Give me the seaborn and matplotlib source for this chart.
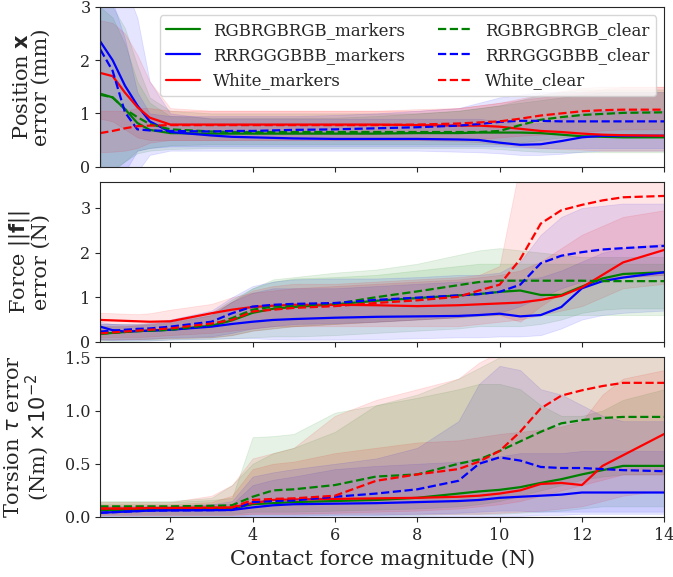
import matplotlib
matplotlib.use("Agg")
import matplotlib.pyplot as plt
import seaborn as sns

# =============================================================================
# data (x = contact force magnitude, N)
# =============================================================================
X = [0.3, 0.6, 0.9, 1.2, 1.5, 2, 3, 3.5, 4, 4.5, 5, 6, 7, 8, 9, 9.5, 10, 10.5, 11, 11.5, 12, 12.5, 13, 14]

labels = ["RGBRGBRGB_markers", "RRRGGGBBB_markers", "White_markers",
          "RGBRGBRGB_clear", "RRRGGGBBB_clear", "White_clear"]

# --- position error (mm) ---
pos_rgb_markers = [1.37, 1.30, 1.08, 0.82, 0.69, 0.63, 0.62, 0.62, 0.62, 0.62, 0.62, 0.62, 0.62, 0.63, 0.63, 0.64, 0.64, 0.64, 0.63, 0.60, 0.57, 0.56, 0.55, 0.55]
pos_rgb_markers_lo = [-0.1, -0.05, 0.10, 0.25, 0.30, 0.33, 0.35, 0.35, 0.35, 0.35, 0.35, 0.35, 0.35, 0.35, 0.35, 0.35, 0.33, 0.30, 0.28, 0.27, 0.27, 0.27, 0.27, 0.27]
pos_rgb_markers_hi = [3.2, 3.0, 2.6, 1.9, 1.3, 1.05, 1.0, 1.0, 1.0, 1.0, 1.0, 1.0, 1.0, 1.0, 1.05, 1.1, 1.15, 1.2, 1.25, 1.3, 1.35, 1.4, 1.4, 1.4]
pos_rrr_markers = [2.35, 2.00, 1.52, 1.15, 0.85, 0.65, 0.585, 0.56, 0.55, 0.54, 0.53, 0.52, 0.52, 0.52, 0.51, 0.50, 0.45, 0.41, 0.42, 0.48, 0.55, 0.58, 0.58, 0.58]
pos_rrr_markers_lo = [-0.5, -0.5, -0.4, -0.1, 0.22, 0.30, 0.30, 0.30, 0.30, 0.30, 0.30, 0.30, 0.30, 0.30, 0.28, 0.27, 0.25, 0.22, 0.22, 0.24, 0.28, 0.30, 0.30, 0.30]
pos_rrr_markers_hi = [3.5, 3.5, 3.4, 2.8, 1.6, 1.0, 0.9, 0.9, 0.9, 0.9, 0.9, 0.9, 0.9, 0.9, 0.9, 0.9, 0.85, 0.8, 0.82, 0.9, 1.0, 1.05, 1.05, 1.05]
pos_white_markers = [1.76, 1.70, 1.39, 1.12, 0.92, 0.79, 0.79, 0.79, 0.79, 0.79, 0.79, 0.79, 0.79, 0.78, 0.77, 0.77, 0.75, 0.71, 0.67, 0.65, 0.62, 0.60, 0.59, 0.58]
pos_white_markers_lo = [0.9, 0.85, 0.7, 0.55, 0.5, 0.5, 0.5, 0.5, 0.5, 0.5, 0.5, 0.5, 0.5, 0.5, 0.48, 0.46, 0.42, 0.38, 0.35, 0.33, 0.32, 0.3, 0.3, 0.3]
pos_white_markers_hi = [2.75, 2.7, 2.5, 2.1, 1.6, 1.1, 1.05, 1.05, 1.05, 1.05, 1.05, 1.05, 1.05, 1.05, 1.1, 1.15, 1.2, 1.25, 1.3, 1.35, 1.4, 1.45, 1.5, 1.5]
pos_rgb_clear = [1.35, 1.30, 1.08, 0.93, 0.80, 0.70, 0.66, 0.65, 0.65, 0.65, 0.65, 0.65, 0.65, 0.65, 0.65, 0.65, 0.67, 0.78, 0.88, 0.93, 0.97, 0.99, 1.01, 1.02]
pos_rgb_clear_lo = [-0.2, -0.1, 0.1, 0.3, 0.35, 0.4, 0.42, 0.42, 0.42, 0.42, 0.42, 0.42, 0.42, 0.42, 0.42, 0.42, 0.42, 0.45, 0.5, 0.55, 0.58, 0.6, 0.6, 0.6]
pos_rgb_clear_hi = [3.0, 2.8, 2.3, 1.6, 1.2, 0.95, 0.92, 0.92, 0.92, 0.92, 0.92, 0.92, 0.95, 1.0, 1.05, 1.1, 1.15, 1.25, 1.35, 1.4, 1.45, 1.45, 1.45, 1.45]
pos_rrr_clear = [2.2, 1.8, 1.02, 0.70, 0.68, 0.67, 0.66, 0.67, 0.67, 0.68, 0.69, 0.70, 0.72, 0.74, 0.77, 0.80, 0.84, 0.86, 0.86, 0.85, 0.85, 0.85, 0.85, 0.85]
pos_rrr_clear_lo = [0.0, -0.2, -0.1, 0.3, 0.35, 0.38, 0.38, 0.38, 0.38, 0.38, 0.38, 0.38, 0.38, 0.38, 0.38, 0.38, 0.38, 0.36, 0.35, 0.35, 0.35, 0.35, 0.35, 0.35]
pos_rrr_clear_hi = [3.3, 3.1, 2.4, 1.4, 1.0, 0.95, 0.95, 0.95, 0.95, 0.95, 0.95, 0.97, 1.0, 1.05, 1.1, 1.2, 1.3, 1.35, 1.4, 1.4, 1.4, 1.4, 1.4, 1.4]
pos_white_clear = [0.63, 0.67, 0.72, 0.76, 0.77, 0.78, 0.78, 0.78, 0.78, 0.78, 0.78, 0.78, 0.78, 0.79, 0.81, 0.83, 0.85, 0.90, 0.96, 1.00, 1.04, 1.06, 1.07, 1.07]
pos_white_clear_lo = [0.27, 0.28, 0.3, 0.35, 0.45, 0.5, 0.5, 0.5, 0.5, 0.5, 0.5, 0.5, 0.5, 0.5, 0.5, 0.52, 0.55, 0.58, 0.6, 0.62, 0.65, 0.68, 0.7, 0.7]
pos_white_clear_hi = [1.05, 1.05, 1.05, 1.1, 1.1, 1.05, 1.05, 1.05, 1.05, 1.05, 1.05, 1.05, 1.05, 1.08, 1.1, 1.15, 1.2, 1.28, 1.35, 1.42, 1.48, 1.5, 1.5, 1.5]

# --- force error (N) ---
force_rgb_markers = [0.18, 0.20, 0.22, 0.24, 0.25, 0.27, 0.36, 0.48, 0.65, 0.74, 0.78, 0.84, 0.92, 0.98, 1.04, 1.07, 1.12, 1.15, 1.05, 1.05, 1.24, 1.42, 1.52, 1.56]
force_rgb_markers_lo = [0.02, 0.02, 0.02, 0.02, 0.03, 0.05, 0.06, 0.08, 0.1, 0.12, 0.12, 0.15, 0.2, 0.25, 0.3, 0.35, 0.35, 0.35, 0.4, 0.5, 0.65, 0.72, 0.75, 0.75]
force_rgb_markers_hi = [0.4, 0.4, 0.4, 0.4, 0.42, 0.45, 0.65, 0.95, 1.2, 1.4, 1.45, 1.55, 1.62, 1.75, 1.95, 2.05, 2.1, 2.05, 2.0, 1.95, 1.9, 1.9, 1.9, 1.9]
force_rrr_markers = [0.34, 0.26, 0.23, 0.24, 0.25, 0.27, 0.34, 0.40, 0.45, 0.49, 0.51, 0.54, 0.56, 0.57, 0.58, 0.60, 0.63, 0.57, 0.60, 0.78, 1.20, 1.36, 1.44, 1.56]
force_rrr_markers_lo = [0.05, 0.03, 0.03, 0.03, 0.03, 0.05, 0.07, 0.08, 0.08, 0.06, 0.05, 0.05, 0.06, 0.08, 0.1, 0.1, 0.12, 0.12, 0.15, 0.3, 0.5, 0.6, 0.65, 0.7]
force_rrr_markers_hi = [0.45, 0.4, 0.38, 0.38, 0.4, 0.45, 0.6, 0.9, 1.1, 1.2, 1.2, 1.2, 1.25, 1.3, 1.35, 1.35, 1.4, 1.4, 1.45, 1.6, 1.8, 2.0, 2.1, 2.2]
force_white_markers = [0.49, 0.48, 0.47, 0.46, 0.45, 0.46, 0.64, 0.72, 0.78, 0.81, 0.83, 0.83, 0.82, 0.80, 0.82, 0.84, 0.86, 0.88, 0.94, 1.03, 1.22, 1.50, 1.78, 2.06]
force_white_markers_lo = [0.1, 0.1, 0.1, 0.1, 0.12, 0.15, 0.2, 0.25, 0.3, 0.35, 0.35, 0.35, 0.35, 0.35, 0.35, 0.4, 0.45, 0.5, 0.6, 0.7, 0.8, 1.0, 1.2, 1.3]
force_white_markers_hi = [0.65, 0.64, 0.63, 0.62, 0.64, 0.72, 0.85, 1.0, 1.1, 1.15, 1.2, 1.25, 1.3, 1.35, 1.4, 1.45, 1.5, 1.6, 1.8, 2.1, 2.4, 2.6, 2.8, 2.95]
force_rgb_clear = [0.18, 0.20, 0.22, 0.24, 0.25, 0.27, 0.38, 0.53, 0.72, 0.79, 0.80, 0.85, 1.00, 1.13, 1.27, 1.34, 1.37, 1.37, 1.37, 1.37, 1.37, 1.36, 1.36, 1.36]
force_rgb_clear_lo = [0.05, 0.05, 0.06, 0.06, 0.06, 0.08, 0.1, 0.15, 0.25, 0.3, 0.35, 0.4, 0.45, 0.5, 0.55, 0.58, 0.6, 0.6, 0.6, 0.6, 0.6, 0.6, 0.6, 0.6]
force_rgb_clear_hi = [0.35, 0.35, 0.35, 0.36, 0.38, 0.42, 0.6, 0.9, 1.2, 1.35, 1.42, 1.45, 1.5, 1.6, 1.7, 1.75, 1.75, 1.75, 1.75, 1.75, 1.75, 1.75, 1.75, 1.75]
force_rrr_clear = [0.23, 0.25, 0.27, 0.29, 0.30, 0.34, 0.45, 0.64, 0.79, 0.83, 0.85, 0.87, 0.94, 0.99, 1.04, 1.07, 1.12, 1.28, 1.76, 1.93, 2.01, 2.07, 2.10, 2.15]
force_rrr_clear_lo = [0.05, 0.05, 0.05, 0.06, 0.07, 0.1, 0.12, 0.2, 0.3, 0.35, 0.4, 0.42, 0.45, 0.5, 0.55, 0.6, 0.65, 0.8, 1.0, 1.2, 1.35, 1.4, 1.45, 1.5]
force_rrr_clear_hi = [0.4, 0.4, 0.4, 0.4, 0.42, 0.5, 0.7, 1.0, 1.25, 1.35, 1.4, 1.42, 1.42, 1.45, 1.5, 1.5, 1.55, 1.8, 2.4, 2.8, 3.0, 3.05, 3.1, 3.1]
force_white_clear = [0.19, 0.21, 0.23, 0.25, 0.27, 0.30, 0.41, 0.49, 0.68, 0.72, 0.76, 0.80, 0.87, 0.93, 1.01, 1.15, 1.28, 1.85, 2.65, 2.95, 3.07, 3.17, 3.24, 3.27]
force_white_clear_lo = [0.05, 0.05, 0.06, 0.06, 0.07, 0.08, 0.1, 0.15, 0.25, 0.3, 0.35, 0.4, 0.45, 0.5, 0.55, 0.6, 0.6, 0.45, 0.8, 1.1, 1.3, 1.4, 1.45, 1.5]
force_white_clear_hi = [0.35, 0.35, 0.35, 0.38, 0.4, 0.45, 0.65, 0.9, 1.15, 1.25, 1.3, 1.3, 1.35, 1.4, 1.45, 1.5, 1.7, 4.0, 4.5, 4.5, 4.5, 4.5, 4.5, 4.5]

# --- torsion error (Nm x 1e-2) ---
tor_rgb_markers = [0.065, 0.066, 0.067, 0.068, 0.07, 0.072, 0.075, 0.08, 0.12, 0.13, 0.14, 0.15, 0.16, 0.18, 0.22, 0.24, 0.255, 0.28, 0.32, 0.355, 0.40, 0.44, 0.48, 0.48]
tor_rgb_markers_lo = [0.01, 0.01, 0.01, 0.01, 0.01, 0.01, 0.01, 0.01, 0.02, 0.02, 0.02, 0.02, 0.02, 0.02, 0.03, 0.03, 0.03, 0.04, 0.05, 0.06, 0.08, 0.1, 0.1, 0.1]
tor_rgb_markers_hi = [0.14, 0.14, 0.14, 0.14, 0.14, 0.14, 0.16, 0.18, 0.75, 0.76, 0.78, 0.98, 1.05, 1.12, 1.2, 1.25, 1.25, 1.2, 1.05, 0.95, 0.95, 1.0, 1.1, 1.2]
tor_rrr_markers = [0.04, 0.045, 0.05, 0.055, 0.06, 0.062, 0.064, 0.066, 0.09, 0.11, 0.12, 0.125, 0.13, 0.14, 0.15, 0.16, 0.18, 0.19, 0.20, 0.21, 0.23, 0.23, 0.23, 0.23]
tor_rrr_markers_lo = [0.0, 0.0, 0.0, 0.0, 0.0, 0.0, 0.0, 0.0, 0.01, 0.01, 0.01, 0.01, 0.01, 0.01, 0.01, 0.01, 0.01, 0.01, 0.02, 0.02, 0.03, 0.03, 0.03, 0.03]
tor_rrr_markers_hi = [0.1, 0.1, 0.1, 0.1, 0.1, 0.1, 0.12, 0.12, 0.3, 0.35, 0.38, 0.45, 0.48, 0.5, 0.52, 0.55, 0.57, 0.6, 0.6, 0.6, 0.62, 0.62, 0.62, 0.62]
tor_white_markers = [0.08, 0.08, 0.08, 0.08, 0.085, 0.085, 0.09, 0.09, 0.13, 0.16, 0.165, 0.17, 0.175, 0.18, 0.19, 0.20, 0.22, 0.25, 0.31, 0.32, 0.30, 0.48, 0.58, 0.78]
tor_white_markers_lo = [0.02, 0.02, 0.02, 0.02, 0.02, 0.02, 0.02, 0.02, 0.03, 0.03, 0.03, 0.03, 0.03, 0.03, 0.03, 0.03, 0.04, 0.05, 0.06, 0.08, 0.1, 0.15, 0.2, 0.25]
tor_white_markers_hi = [0.12, 0.12, 0.12, 0.12, 0.12, 0.12, 0.14, 0.2, 0.45, 0.5, 0.52, 0.6, 0.65, 0.7, 0.72, 0.75, 0.78, 0.8, 0.82, 0.85, 0.9, 1.15, 1.3, 1.38]
tor_rgb_clear = [0.10, 0.10, 0.10, 0.10, 0.10, 0.10, 0.105, 0.11, 0.19, 0.25, 0.26, 0.30, 0.38, 0.40, 0.50, 0.54, 0.62, 0.71, 0.80, 0.88, 0.91, 0.93, 0.94, 0.94]
tor_rgb_clear_lo = [0.03, 0.03, 0.03, 0.03, 0.03, 0.03, 0.03, 0.03, 0.05, 0.05, 0.05, 0.06, 0.07, 0.08, 0.1, 0.12, 0.15, 0.2, 0.25, 0.3, 0.35, 0.38, 0.4, 0.4]
tor_rgb_clear_hi = [0.15, 0.15, 0.15, 0.15, 0.15, 0.15, 0.18, 0.3, 0.5, 0.6, 0.65, 0.8, 1.05, 1.15, 1.3, 1.4, 1.5, 1.6, 1.7, 1.75, 1.8, 1.8, 1.8, 1.8]
tor_rrr_clear = [0.04, 0.045, 0.05, 0.055, 0.06, 0.062, 0.064, 0.066, 0.14, 0.15, 0.155, 0.19, 0.22, 0.26, 0.34, 0.50, 0.56, 0.53, 0.47, 0.46, 0.46, 0.45, 0.44, 0.43]
tor_rrr_clear_lo = [0.0, 0.0, 0.0, 0.0, 0.0, 0.0, 0.0, 0.0, 0.01, 0.01, 0.01, 0.02, 0.02, 0.03, 0.04, 0.05, 0.06, 0.06, 0.05, 0.05, 0.05, 0.05, 0.05, 0.05]
tor_rrr_clear_hi = [0.1, 0.1, 0.1, 0.1, 0.1, 0.1, 0.12, 0.15, 0.38, 0.42, 0.45, 0.5, 0.55, 0.65, 0.9, 1.25, 1.42, 1.38, 1.2, 1.15, 1.05, 0.95, 0.9, 0.9]
tor_white_clear = [0.08, 0.08, 0.08, 0.085, 0.085, 0.085, 0.085, 0.09, 0.16, 0.17, 0.175, 0.20, 0.34, 0.40, 0.45, 0.52, 0.62, 0.80, 1.02, 1.14, 1.19, 1.23, 1.26, 1.26]
tor_white_clear_lo = [0.02, 0.02, 0.02, 0.02, 0.02, 0.02, 0.02, 0.02, 0.03, 0.03, 0.03, 0.04, 0.05, 0.06, 0.08, 0.1, 0.12, 0.15, 0.2, 0.25, 0.3, 0.35, 0.4, 0.4]
tor_white_clear_hi = [0.14, 0.14, 0.14, 0.14, 0.14, 0.14, 0.2, 0.3, 0.55, 0.6, 0.65, 0.95, 1.1, 1.2, 1.3, 1.45, 1.55, 1.6, 1.7, 1.8, 1.9, 2.0, 2.0, 2.0]

# =============================================================================
# plot
# =============================================================================
sns.set_style("ticks")
plt.rcParams['font.family'] = ['DejaVu Serif']
plt.rcParams['mathtext.fontset'] = 'dejavusans'

colors = ['green', 'blue', 'red', 'green', 'blue', 'red']
styles = ['-', '-', '-', '--', '--', '--']

panels = [
    ([pos_rgb_markers, pos_rrr_markers, pos_white_markers, pos_rgb_clear, pos_rrr_clear, pos_white_clear],
     [pos_rgb_markers_lo, pos_rrr_markers_lo, pos_white_markers_lo, pos_rgb_clear_lo, pos_rrr_clear_lo, pos_white_clear_lo],
     [pos_rgb_markers_hi, pos_rrr_markers_hi, pos_white_markers_hi, pos_rgb_clear_hi, pos_rrr_clear_hi, pos_white_clear_hi],
     "Position $\\mathbf{x}$\nerror (mm)", (0, 3), [0, 1, 2, 3]),
    ([force_rgb_markers, force_rrr_markers, force_white_markers, force_rgb_clear, force_rrr_clear, force_white_clear],
     [force_rgb_markers_lo, force_rrr_markers_lo, force_white_markers_lo, force_rgb_clear_lo, force_rrr_clear_lo, force_white_clear_lo],
     [force_rgb_markers_hi, force_rrr_markers_hi, force_white_markers_hi, force_rgb_clear_hi, force_rrr_clear_hi, force_white_clear_hi],
     "Force $||\\mathbf{f}||$\nerror (N)", (0, 3.58), [0, 1, 2, 3]),
    ([tor_rgb_markers, tor_rrr_markers, tor_white_markers, tor_rgb_clear, tor_rrr_clear, tor_white_clear],
     [tor_rgb_markers_lo, tor_rrr_markers_lo, tor_white_markers_lo, tor_rgb_clear_lo, tor_rrr_clear_lo, tor_white_clear_lo],
     [tor_rgb_markers_hi, tor_rrr_markers_hi, tor_white_markers_hi, tor_rgb_clear_hi, tor_rrr_clear_hi, tor_white_clear_hi],
     "Torsion $\\tau$ error\n(Nm) $\\times10^{-2}$", (0, 1.5), [0.0, 0.5, 1.0, 1.5]),
]

fig, axes = plt.subplots(3, 1, figsize=(6.73, 5.77), dpi=100, sharex=True)
fig.subplots_adjust(left=0.149, right=0.987, top=0.988, bottom=0.104, hspace=0.097)

for k, (ax, (means, los, his, ylab, ylim, yticks)) in enumerate(zip(axes, panels)):
    for i in range(6):
        ax.fill_between(X, los[i], his[i], color=colors[i], alpha=0.1, lw=0.6)
    for i in range(6):
        sns.lineplot(x=X, y=means[i], ax=ax, color=colors[i], linestyle=styles[i],
                     lw=1.6, label=labels[i] if k == 0 else None, legend=False)
    ax.set_ylim(*ylim)
    ax.set_yticks(yticks)
    ax.set_ylabel(ylab, fontsize=15, linespacing=1.0)
    ax.yaxis.set_label_coords(-0.088, 0.5)
    ax.tick_params(labelsize=11.5)

axes[0].legend(ncol=2, fontsize=12, loc='upper right')
axes[2].set_xlim(0.3, 14)
axes[2].set_xticks([2, 4, 6, 8, 10, 12, 14])
axes[2].set_xlabel("Contact force magnitude (N)", fontsize=15)

plt.savefig("out.png", dpi=100)
